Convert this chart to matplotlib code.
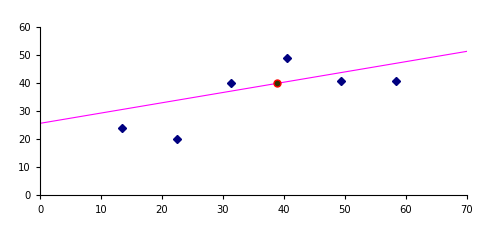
import matplotlib
matplotlib.use("Agg")
import matplotlib.pyplot as plt

# data
x_points = [13.5, 22.4, 31.4, 40.5, 49.4, 58.4]
y_points = [24, 20, 40, 49, 41, 41]
hl_x = [38.8]
hl_y = [40.2]
line_x = [0, 70]
line_y = [25.7, 51.4]
xticks = [0, 10, 20, 30, 40, 50, 60, 70]
yticks = [0, 10, 20, 30, 40, 50, 60]

plt.rcParams["font.family"] = ["DejaVu Sans"]

fig = plt.figure(figsize=(4.92, 2.41), dpi=100)
ax = fig.add_axes([40 / 492, (241 - 195.3) / 241, 426.7 / 492, 168 / 241])

ax.plot(line_x, line_y, color="#FF00FF", lw=0.8, zorder=2)
ax.plot(x_points, y_points, "D", color="#000080", ms=4.2, mec="#000080", lw=0, zorder=3)
ax.plot(hl_x, hl_y, "o", color="#333300", mec="#FF0000", mew=1.0, ms=5, zorder=4)

ax.set_xlim(0, 70)
ax.set_ylim(0, 60)
ax.set_xticks(xticks)
ax.set_yticks(yticks)
for s in ["top", "right"]:
    ax.spines[s].set_visible(False)
for s in ["left", "bottom"]:
    ax.spines[s].set_linewidth(0.8)
ax.tick_params(direction="out", length=3, width=0.8, labelsize=7.2, colors="black")
ax.tick_params(axis="y", pad=3.5)
ax.tick_params(axis="x", pad=4)

fig.savefig("out.png", dpi=100)
